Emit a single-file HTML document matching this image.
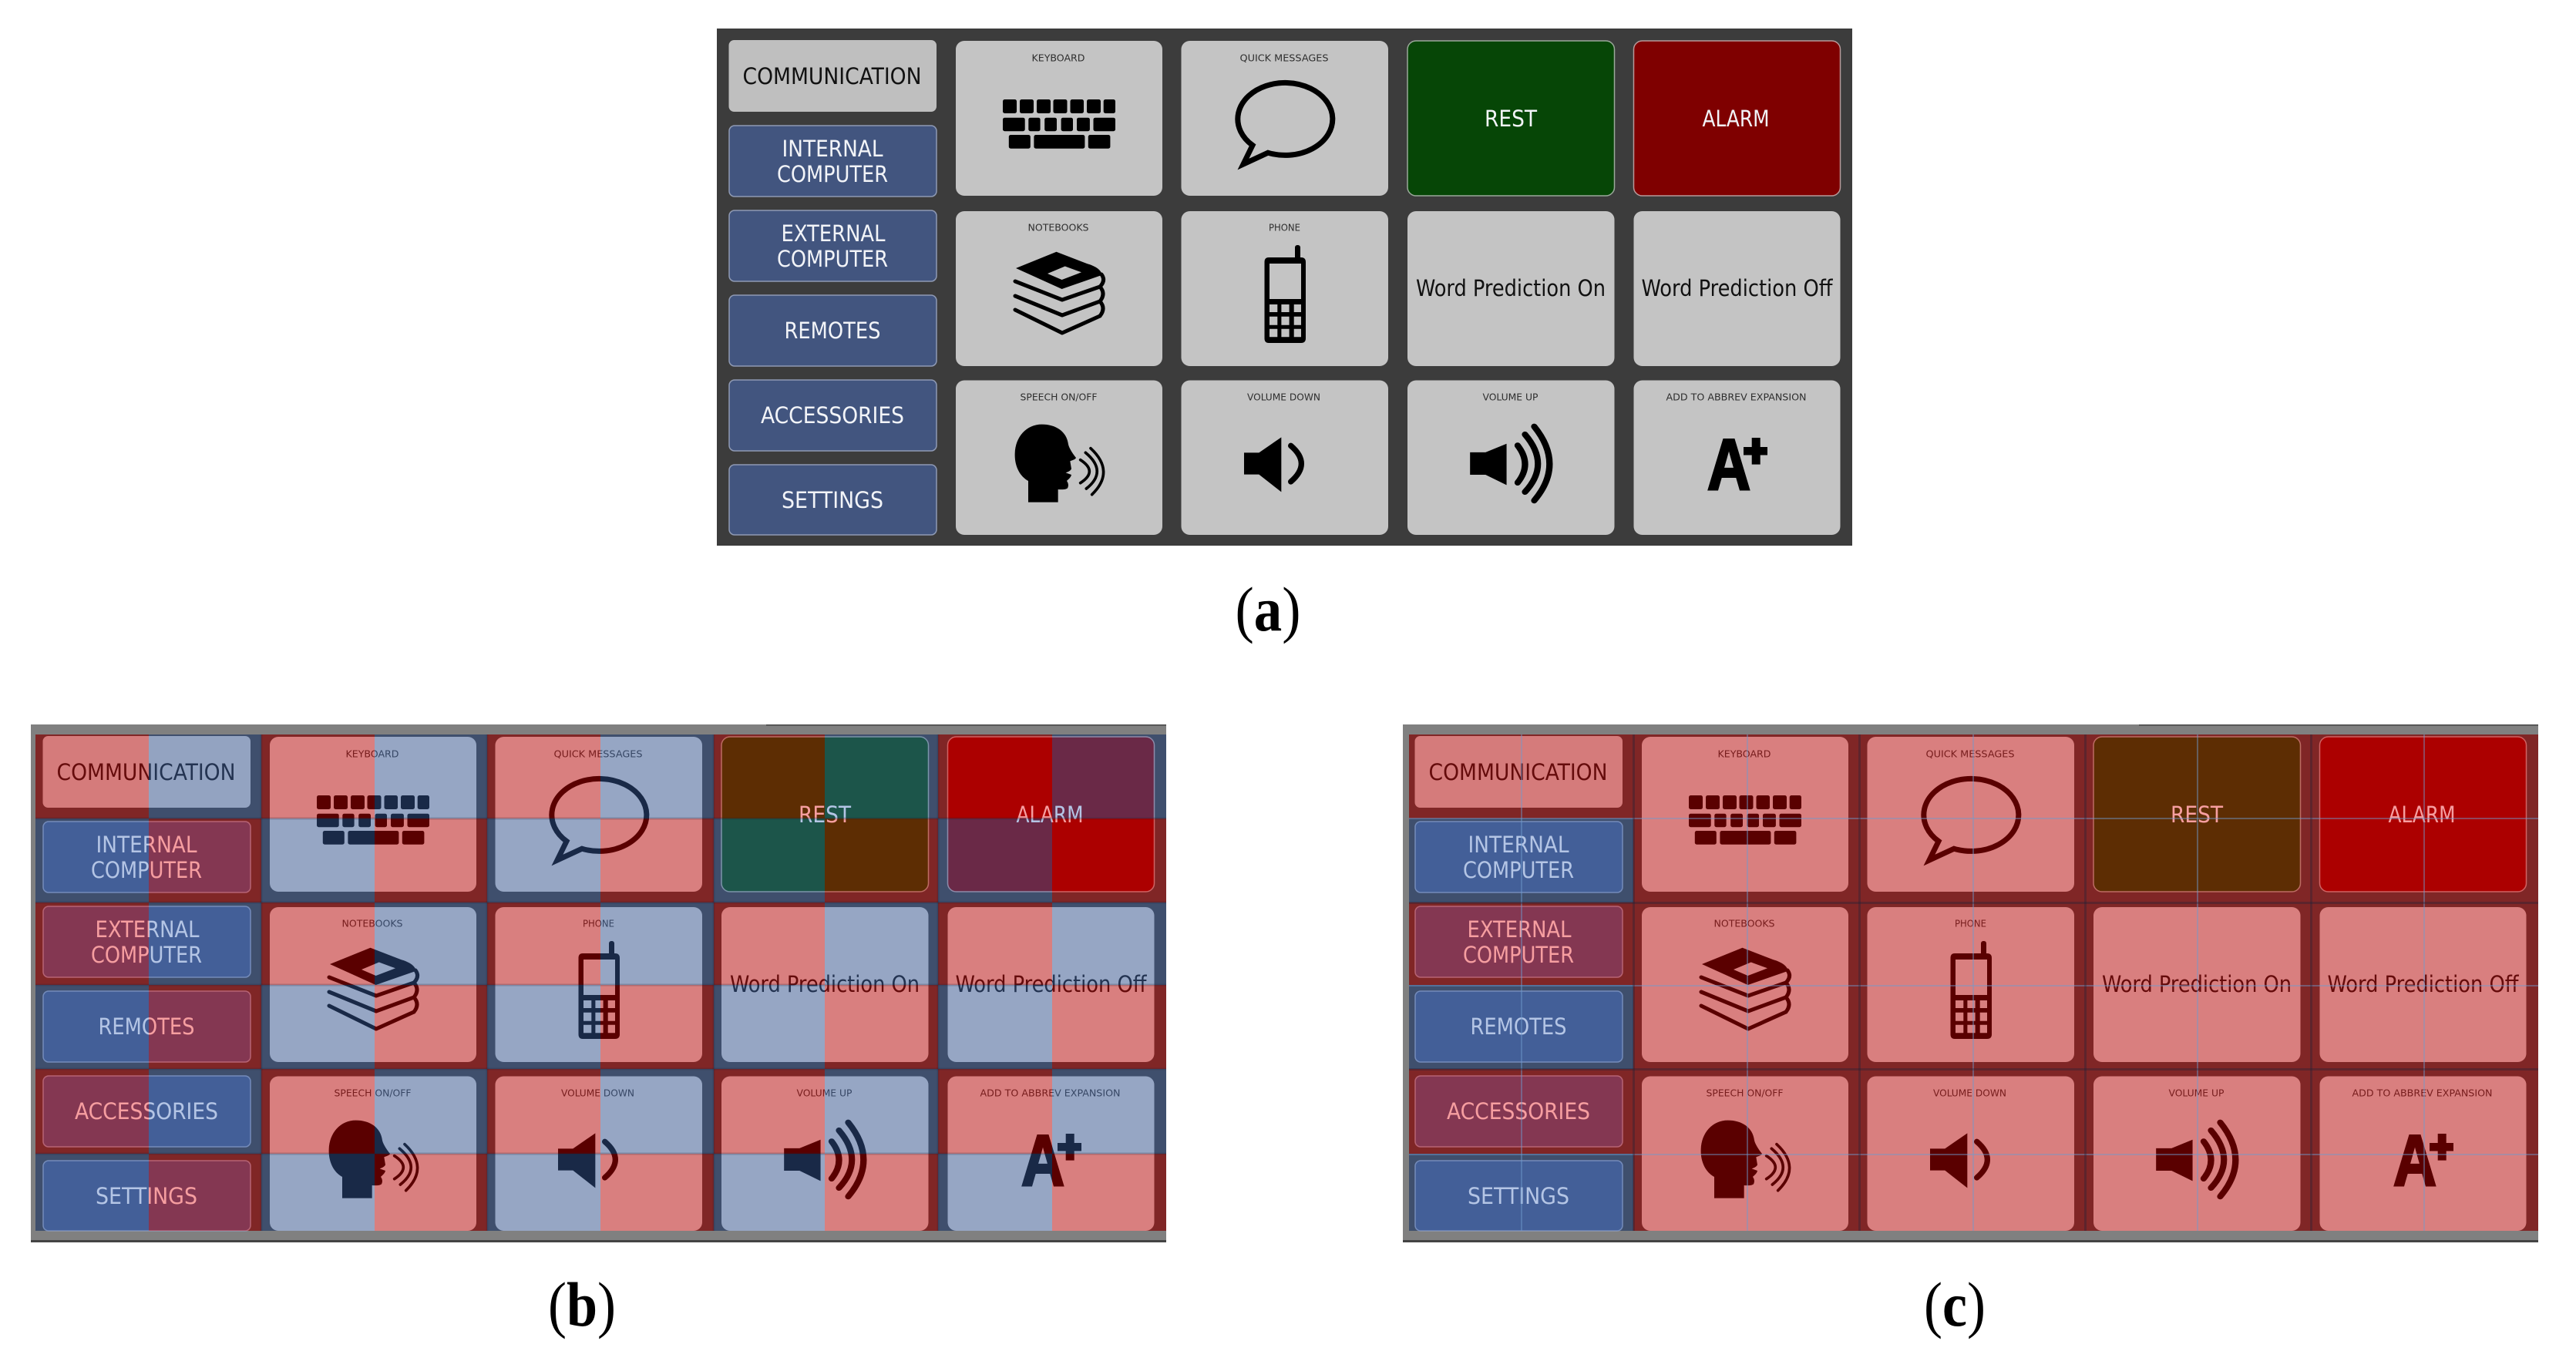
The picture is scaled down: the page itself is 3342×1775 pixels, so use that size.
<!DOCTYPE html>
<html><head><meta charset="utf-8"><style>
html,body{margin:0;padding:0;background:#fff;width:3342px;height:1775px;overflow:hidden}
svg{display:block}
text{text-anchor:middle;font-family:"DejaVu Sans Condensed","DejaVu Sans","Liberation Sans",sans-serif}
.w{font-size:29px;fill:#f2f4f8}
.d{font-size:29px;fill:#111}
.s{font-size:12.5px;fill:#2e2e2e}
.a{font-family:"Liberation Sans",sans-serif;font-weight:bold;font-size:94px;fill:#000;stroke:#000;stroke-width:3px}
.cap{font-family:"Liberation Serif",serif;font-size:82px;fill:#000}
.cap tspan{font-weight:bold}
</style></head><body>
<svg xmlns="http://www.w3.org/2000/svg" width="3342" height="1775" viewBox="0 0 3342 1775">
<defs>
<g id="cards">
<rect x="945.500" y="52" width="269.500" height="93" rx="7" fill="#bfbfbf"/>
<g fill="#42557f" stroke="#8f9ab4" stroke-width="1.500">
<rect x="946" y="163" width="269" height="92" rx="7"/>
<rect x="946" y="273" width="269" height="92" rx="7"/>
<rect x="946" y="383" width="269" height="92" rx="7"/>
<rect x="946" y="493" width="269" height="92" rx="7"/>
<rect x="946" y="603" width="269" height="91" rx="7"/>
</g>
<g fill="#c4c4c4">
<rect x="1240" y="53" width="268" height="201" rx="11"/>
<rect x="1532.500" y="53" width="268.500" height="201" rx="11"/>
<rect x="2119.500" y="274" width="268" height="201" rx="11"/>
<rect x="1826" y="274" width="268.500" height="201" rx="11"/>
<rect x="1240" y="274" width="268" height="201" rx="11"/>
<rect x="1532.500" y="274" width="268.500" height="201" rx="11"/>
<rect x="1240" y="493.500" width="268" height="200.500" rx="11"/>
<rect x="1532.500" y="493.500" width="268.500" height="200.500" rx="11"/>
<rect x="1826" y="493.500" width="268.500" height="200.500" rx="11"/>
<rect x="2119.500" y="493.500" width="268" height="200.500" rx="11"/>
</g>
<rect x="1826" y="53" width="268.500" height="201" rx="11" fill="#064606" stroke="#9aa89a" stroke-width="1.500"/>
<rect x="2119.500" y="53" width="268" height="201" rx="11" fill="#7f0000" stroke="#b79a9a" stroke-width="1.500"/>
</g>
<g id="icons">
<!-- keyboard -->
<g fill="#000">
<rect x="1301" y="129" width="18" height="18" rx="2.500"/><rect x="1323" y="129" width="18" height="18" rx="2.500"/><rect x="1345" y="129" width="18" height="18" rx="2.500"/><rect x="1366.500" y="129" width="18" height="18" rx="2.500"/><rect x="1388.500" y="129" width="17.500" height="18" rx="2.500"/><rect x="1410" y="129" width="18" height="18" rx="2.500"/><rect x="1431.700" y="129" width="15.300" height="18" rx="2.500"/>
<rect x="1301" y="152.700" width="28.700" height="17.500" rx="2.500"/><rect x="1334.300" y="152.700" width="15.300" height="17.500" rx="2.500"/><rect x="1355.200" y="152.700" width="15.800" height="17.500" rx="2.500"/><rect x="1376.600" y="152.700" width="15.400" height="17.500" rx="2.500"/><rect x="1397" y="152.700" width="16.900" height="17.500" rx="2.500"/><rect x="1418.500" y="152.700" width="28.500" height="17.500" rx="2.500"/>
<rect x="1308.800" y="175" width="28" height="17.700" rx="2.500"/><rect x="1341.400" y="175" width="66" height="17.700" rx="2.500"/><rect x="1411.800" y="175" width="28.600" height="17.700" rx="2.500"/>
</g>
<!-- speech bubble -->
<path d="M1645 198.200A61.500 47 0 1 0 1625 188.500L1613 213Z" fill="none" stroke="#000" stroke-width="7"/>
<!-- books -->
<path fill-rule="evenodd" d="M1370.500 326.700L1318 348L1377.600 375L1430 356.700C1428 349 1420 345 1410 342ZM1359 355L1381.700 345.500L1403 353.300L1377.600 363Z" fill="#000"/>
<g fill="none" stroke="#000" stroke-width="5" stroke-linecap="round" stroke-linejoin="round">
<path d="M1317 365L1378 389L1427 372"/>
<path d="M1317 384L1378 409L1427 391"/>
<path d="M1317 402L1378 432L1427 410"/>
<path d="M1429 356Q1435 364 1427 372Q1435 381 1427 391Q1435 400 1427 410"/>
</g>
<!-- phone -->
<rect x="1680" y="318" width="7" height="22" rx="3" fill="#000"/>
<path fill-rule="evenodd" fill="#000" d="M1646 334H1688Q1694 334 1694 340V439Q1694 445 1688 445H1646Q1640.500 445 1640.500 439V340Q1640.500 334 1646 334ZM1647 342V388H1688V342ZM1647 395V405H1657.300V395ZM1662.400 395V405H1672.600V395ZM1678.700 395V405H1688V395ZM1647 410.700V421.700H1657.300V410.700ZM1662.400 410.700V421.700H1672.600V410.700ZM1678.700 410.700V421.700H1688V410.700ZM1647 426.700V437.300H1657.300V426.700ZM1662.400 426.700V437.300H1672.600V426.700ZM1678.700 426.700V437.300H1688V426.700Z"/>
<!-- head + volume down -->
<g transform="translate(1200 480) scale(.33333)">
<path fill="#000" d="M402 515L402 432C370 415 348 375 350 325C352 260 395 212 455 212C510 212 552 240 558 290C560 300 570 320 588 342C585 350 570 352 565 355L570 385C565 395 552 398 548 400L570 408C568 420 555 428 552 432C558 440 560 450 555 460C548 466 530 466 518 465L518 515Z"/>
<g fill="none" stroke="#000" stroke-width="11" stroke-linecap="round">
<path d="M605 350Q675 395 605 440"/><path d="M625 322Q713 395 628 462"/><path d="M645 305Q742 395 650 485"/>
</g>
<path fill="#000" d="M1242 322H1300L1387 262V475L1300 407H1242Z"/>
<path d="M1424 295Q1506 365 1424 435" fill="none" stroke="#000" stroke-width="22" stroke-linecap="round"/>
</g>
<!-- volume up -->
<g transform="translate(1700 20) scale(.4785 .4464)">
<path fill="#000" d="M433 1270H475L532 1245V1365L475 1335H433Z"/>
<g fill="none" stroke="#000" stroke-width="17" stroke-linecap="round">
<path d="M562 1250Q602 1305 562 1358"/><path d="M582 1218Q652 1305 582 1385"/><path d="M607 1195Q690 1305 607 1410"/>
</g>
</g>
<!-- plus -->
<path fill="#000" d="M2272.700 568H2283.700V580H2293V590.500H2283.700V602.600H2272.700V590.500H2262V580H2272.700Z"/>
</g>
</defs>

<rect width="3342" height="1775" fill="#fff"/>

<!-- panel a -->
<rect x="930" y="37" width="1473" height="671" fill="#3c3c3c"/>
<use href="#cards"/><use href="#icons"/>
<g>
<text class="d" x="1079.500" y="109" textLength="232" lengthAdjust="spacingAndGlyphs">COMMUNICATION</text>
<text class="w" x="1080" y="203" textLength="131" lengthAdjust="spacingAndGlyphs">INTERNAL</text>
<text class="w" x="1080" y="236" textLength="144" lengthAdjust="spacingAndGlyphs">COMPUTER</text>
<text class="w" x="1081" y="313" textLength="135" lengthAdjust="spacingAndGlyphs">EXTERNAL</text>
<text class="w" x="1080" y="346" textLength="144" lengthAdjust="spacingAndGlyphs">COMPUTER</text>
<text class="w" x="1080" y="439" textLength="125" lengthAdjust="spacingAndGlyphs">REMOTES</text>
<text class="w" x="1080" y="549" textLength="186" lengthAdjust="spacingAndGlyphs">ACCESSORIES</text>
<text class="w" x="1080" y="659" textLength="132" lengthAdjust="spacingAndGlyphs">SETTINGS</text>
<text class="s" x="1373" y="79.500" textLength="69" lengthAdjust="spacingAndGlyphs">KEYBOARD</text>
<text class="s" x="1666" y="79.500" textLength="115" lengthAdjust="spacingAndGlyphs">QUICK MESSAGES</text>
<text class="s" x="1373" y="299.500" textLength="79" lengthAdjust="spacingAndGlyphs">NOTEBOOKS</text>
<text class="s" x="1666.500" y="299.500" textLength="41" lengthAdjust="spacingAndGlyphs">PHONE</text>
<text class="s" x="1373.500" y="519.500" textLength="100" lengthAdjust="spacingAndGlyphs">SPEECH ON/OFF</text>
<text class="s" x="1665.500" y="519.500" textLength="95" lengthAdjust="spacingAndGlyphs">VOLUME DOWN</text>
<text class="s" x="1959.500" y="519.500" textLength="72" lengthAdjust="spacingAndGlyphs">VOLUME UP</text>
<text class="s" x="2252.500" y="519.500" textLength="182" lengthAdjust="spacingAndGlyphs">ADD TO ABBREV EXPANSION</text>
<text class="w" x="1960" y="164" textLength="68" lengthAdjust="spacingAndGlyphs">REST</text>
<text class="w" x="2252" y="164" textLength="87" lengthAdjust="spacingAndGlyphs">ALARM</text>
<text class="d" x="1960" y="384" textLength="246" lengthAdjust="spacingAndGlyphs">Word Prediction On</text>
<text class="d" x="2253.500" y="384" textLength="248" lengthAdjust="spacingAndGlyphs">Word Prediction Off</text>
<text class="a" x="2243" y="635" textLength="56" lengthAdjust="spacingAndGlyphs">A</text>
</g>
<text class="cap" x="1645" y="818" textLength="85" lengthAdjust="spacingAndGlyphs">(<tspan>a</tspan>)</text>

<!-- panel b -->
<rect x="40" y="940" width="1473" height="672" fill="#808080"/>
<rect x="40" y="1609" width="1473" height="3" fill="#444"/>
<rect x="994" y="940" width="519" height="1.500" fill="#444"/>
<rect x="46" y="953" width="1467" height="644" fill="#3c3c3c"/>
<g transform="translate(-890 903)">
<use href="#cards"/><use href="#icons"/>
<text class="d" x="1079.500" y="109" textLength="232" lengthAdjust="spacingAndGlyphs">COMMUNICATION</text>
<text class="w" x="1080" y="203" textLength="131" lengthAdjust="spacingAndGlyphs">INTERNAL</text>
<text class="w" x="1080" y="236" textLength="144" lengthAdjust="spacingAndGlyphs">COMPUTER</text>
<text class="w" x="1081" y="313" textLength="135" lengthAdjust="spacingAndGlyphs">EXTERNAL</text>
<text class="w" x="1080" y="346" textLength="144" lengthAdjust="spacingAndGlyphs">COMPUTER</text>
<text class="w" x="1080" y="439" textLength="125" lengthAdjust="spacingAndGlyphs">REMOTES</text>
<text class="w" x="1080" y="549" textLength="186" lengthAdjust="spacingAndGlyphs">ACCESSORIES</text>
<text class="w" x="1080" y="659" textLength="132" lengthAdjust="spacingAndGlyphs">SETTINGS</text>
<text class="s" x="1373" y="79.500" textLength="69" lengthAdjust="spacingAndGlyphs">KEYBOARD</text>
<text class="s" x="1666" y="79.500" textLength="115" lengthAdjust="spacingAndGlyphs">QUICK MESSAGES</text>
<text class="s" x="1373" y="299.500" textLength="79" lengthAdjust="spacingAndGlyphs">NOTEBOOKS</text>
<text class="s" x="1666.500" y="299.500" textLength="41" lengthAdjust="spacingAndGlyphs">PHONE</text>
<text class="s" x="1373.500" y="519.500" textLength="100" lengthAdjust="spacingAndGlyphs">SPEECH ON/OFF</text>
<text class="s" x="1665.500" y="519.500" textLength="95" lengthAdjust="spacingAndGlyphs">VOLUME DOWN</text>
<text class="s" x="1959.500" y="519.500" textLength="72" lengthAdjust="spacingAndGlyphs">VOLUME UP</text>
<text class="s" x="2252.500" y="519.500" textLength="182" lengthAdjust="spacingAndGlyphs">ADD TO ABBREV EXPANSION</text>
<text class="w" x="1960" y="164" textLength="68" lengthAdjust="spacingAndGlyphs">REST</text>
<text class="w" x="2252" y="164" textLength="87" lengthAdjust="spacingAndGlyphs">ALARM</text>
<text class="d" x="1960" y="384" textLength="246" lengthAdjust="spacingAndGlyphs">Word Prediction On</text>
<text class="d" x="2253.500" y="384" textLength="248" lengthAdjust="spacingAndGlyphs">Word Prediction Off</text>
<text class="a" x="2243" y="635" textLength="56" lengthAdjust="spacingAndGlyphs">A</text>
</g>
<path fill="#ff0000" fill-opacity=".353" fill-rule="evenodd" d="M46 953H193V1597H46ZM339 953H486V1597H339ZM632 953H779V1597H632ZM926 953H1070V1597H926ZM1217 953H1365V1597H1217ZM46 1062H1513V1171H46ZM46 1278H1513V1387H46ZM46 1497H1513V1597H46Z"/>
<path fill="#4472c4" fill-opacity=".36" fill-rule="evenodd" d="M193 953H339V1597H193ZM486 953H632V1597H486ZM779 953H926V1597H779ZM1070 953H1217V1597H1070ZM1365 953H1513V1597H1365ZM46 1062H1513V1171H46ZM46 1278H1513V1387H46ZM46 1497H1513V1597H46Z"/>
<g fill="#1e2238" fill-opacity=".22">
<rect x="46" y="1060.500" width="1467" height="3"/><rect x="46" y="1169.500" width="1467" height="3"/><rect x="46" y="1276.500" width="1467" height="3"/><rect x="46" y="1385.500" width="1467" height="3"/><rect x="46" y="1495.500" width="1467" height="3"/>
<rect x="337.500" y="953" width="3" height="644"/><rect x="630.500" y="953" width="3" height="644"/><rect x="924.500" y="953" width="3" height="644"/><rect x="1215.500" y="953" width="3" height="644"/>
</g>
<text class="cap" x="755" y="1720" textLength="88" lengthAdjust="spacingAndGlyphs">(<tspan>b</tspan>)</text>

<!-- panel c -->
<rect x="1820" y="940" width="1473" height="672" fill="#808080"/>
<rect x="1820" y="1609" width="1473" height="3" fill="#444"/>
<rect x="2775" y="940" width="518" height="1.500" fill="#444"/>
<rect x="1828" y="953" width="1465" height="644" fill="#3c3c3c"/>
<g transform="translate(890 903)">
<use href="#cards"/><use href="#icons"/>
<text class="d" x="1079.500" y="109" textLength="232" lengthAdjust="spacingAndGlyphs">COMMUNICATION</text>
<text class="w" x="1080" y="203" textLength="131" lengthAdjust="spacingAndGlyphs">INTERNAL</text>
<text class="w" x="1080" y="236" textLength="144" lengthAdjust="spacingAndGlyphs">COMPUTER</text>
<text class="w" x="1081" y="313" textLength="135" lengthAdjust="spacingAndGlyphs">EXTERNAL</text>
<text class="w" x="1080" y="346" textLength="144" lengthAdjust="spacingAndGlyphs">COMPUTER</text>
<text class="w" x="1080" y="439" textLength="125" lengthAdjust="spacingAndGlyphs">REMOTES</text>
<text class="w" x="1080" y="549" textLength="186" lengthAdjust="spacingAndGlyphs">ACCESSORIES</text>
<text class="w" x="1080" y="659" textLength="132" lengthAdjust="spacingAndGlyphs">SETTINGS</text>
<text class="s" x="1373" y="79.500" textLength="69" lengthAdjust="spacingAndGlyphs">KEYBOARD</text>
<text class="s" x="1666" y="79.500" textLength="115" lengthAdjust="spacingAndGlyphs">QUICK MESSAGES</text>
<text class="s" x="1373" y="299.500" textLength="79" lengthAdjust="spacingAndGlyphs">NOTEBOOKS</text>
<text class="s" x="1666.500" y="299.500" textLength="41" lengthAdjust="spacingAndGlyphs">PHONE</text>
<text class="s" x="1373.500" y="519.500" textLength="100" lengthAdjust="spacingAndGlyphs">SPEECH ON/OFF</text>
<text class="s" x="1665.500" y="519.500" textLength="95" lengthAdjust="spacingAndGlyphs">VOLUME DOWN</text>
<text class="s" x="1959.500" y="519.500" textLength="72" lengthAdjust="spacingAndGlyphs">VOLUME UP</text>
<text class="s" x="2252.500" y="519.500" textLength="182" lengthAdjust="spacingAndGlyphs">ADD TO ABBREV EXPANSION</text>
<text class="w" x="1960" y="164" textLength="68" lengthAdjust="spacingAndGlyphs">REST</text>
<text class="w" x="2252" y="164" textLength="87" lengthAdjust="spacingAndGlyphs">ALARM</text>
<text class="d" x="1960" y="384" textLength="246" lengthAdjust="spacingAndGlyphs">Word Prediction On</text>
<text class="d" x="2253.500" y="384" textLength="248" lengthAdjust="spacingAndGlyphs">Word Prediction Off</text>
<text class="a" x="2243" y="635" textLength="56" lengthAdjust="spacingAndGlyphs">A</text>
</g>
<path fill="#ff0000" fill-opacity=".353" d="M1828 953H3293V1597H2119V1497H1828V1387H2119V1278H1828V1171H2119V1062H1828Z"/>
<g fill="#4472c4" fill-opacity=".36">
<rect x="1828" y="1062" width="291" height="109"/><rect x="1828" y="1278" width="291" height="109"/><rect x="1828" y="1497" width="291" height="100"/>
</g>
<g fill="#6f9ccf" fill-opacity=".45">
<rect x="1973" y="953" width="2" height="644"/><rect x="2266" y="953" width="2" height="644"/><rect x="2559" y="953" width="2" height="644"/><rect x="2850" y="953" width="2" height="644"/><rect x="3144" y="953" width="2" height="644"/>
<rect x="1828" y="1061" width="1465" height="2"/><rect x="1828" y="1278" width="1465" height="2"/><rect x="1828" y="1497" width="1465" height="2"/>
</g>
<g fill="#1e2238" fill-opacity=".35">
<rect x="2118" y="953" width="3" height="644"/><rect x="2411" y="953" width="3" height="644"/><rect x="2704" y="953" width="3" height="644"/><rect x="2997" y="953" width="3" height="644"/>
<rect x="1828" y="1170" width="1465" height="3"/><rect x="1828" y="1386" width="1465" height="3"/>
</g>
<text class="cap" x="2536" y="1720" textLength="80" lengthAdjust="spacingAndGlyphs">(<tspan>c</tspan>)</text>
</svg>
</body></html>
